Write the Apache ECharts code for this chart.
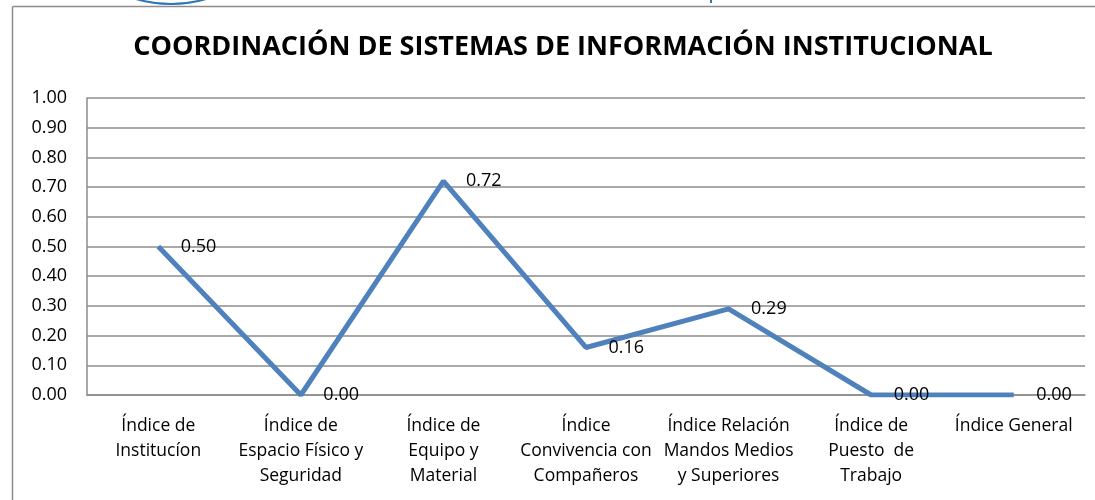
<!DOCTYPE html>
<html>
<head>
<meta charset="utf-8">
<script src="https://cdn.jsdelivr.net/npm/echarts@6/dist/echarts.min.js"></script>
<style>
html,body{margin:0;padding:0;background:#fff;overflow:hidden;}
#c{width:1095px;height:500px;}
</style>
</head>
<body>
<div id="c"></div>
<script>
var titleText = 'COORDINACIÓN DE SISTEMAS DE INFORMACIÓN INSTITUCIONAL';
var categories = [
  'Índice de\nInstitucíon',
  'Índice de\nEspacio Físico y\nSeguridad',
  'Índice de\nEquipo y\nMaterial',
  'Índice\nConvivencia con\nCompañeros',
  'Índice Relación\nMandos Medios\ny Superiores',
  'Índice de\nPuesto  de\nTrabajo',
  'Índice General'
];
var values = [0.50, 0.00, 0.72, 0.16, 0.29, 0.00, 0.00];
var yTicks = [0, 0.1, 0.2, 0.3, 0.4, 0.5, 0.6, 0.7, 0.8, 0.9, 1.0];

var FONT = '"Open Sans", sans-serif';
var chart = echarts.init(document.getElementById('c'), null, {renderer: 'canvas'});
chart.setOption({
  backgroundColor: '#fff',
  animation: false,
  title: {
    text: titleText,
    left: 558,
    textAlign: 'center',
    top: 29,
    textStyle: {fontFamily: FONT, fontWeight: 'bold', fontSize: 27, color: '#000'}
  },
  graphic: [
    {type: 'line', shape: {x1: 12.5, y1: 6.5, x2: 1095, y2: 6.5}, style: {stroke: '#8c8c8c', lineWidth: 1.5}, silent: true},
    {type: 'line', shape: {x1: 12.5, y1: 6.5, x2: 12.5, y2: 500}, style: {stroke: '#8c8c8c', lineWidth: 1.5}, silent: true},
    {type: 'circle', shape: {cx: 171, cy: -122, r: 126}, style: {fill: null, stroke: '#2E75B6', lineWidth: 2}, silent: true},
    {type: 'line', shape: {x1: 711, y1: 0, x2: 711, y2: 3}, style: {stroke: '#2E75B6', lineWidth: 2}, silent: true}
  ],
  grid: {left: 87, right: 10, top: 98, bottom: 105, containLabel: false},
  xAxis: {
    type: 'category',
    data: categories,
    boundaryGap: true,
    axisLine: {show: true, lineStyle: {color: '#8c8c8c', width: 1.5}},
    axisTick: {show: false},
    axisLabel: {interval: 0, margin: 19, fontFamily: FONT, fontSize: 17.5, color: '#000', lineHeight: 25, align: 'center'}
  },
  yAxis: {
    type: 'value',
    min: 0, max: 1, interval: 0.1,
    axisLine: {show: true, lineStyle: {color: '#8c8c8c', width: 1.5}},
    axisTick: {show: false},
    splitLine: {show: true, lineStyle: {color: '#8c8c8c', width: 1.5}},
    axisLabel: {
      margin: 20, fontFamily: FONT, fontSize: 18, color: '#000',
      formatter: function (v) { return v.toFixed(2); },
      customValues: yTicks
    }
  },
  series: [{
    type: 'line',
    data: values,
    symbol: 'circle',
    symbolSize: 1,
    showSymbol: true,
    lineStyle: {color: '#4F81BD', width: 5},
    itemStyle: {color: '#4F81BD'},
    label: {
      show: true, position: 'right', distance: 22,
      fontFamily: FONT, fontSize: 18, color: '#000',
      formatter: function (p) { return p.value.toFixed(2); }
    },
    labelLayout: {hideOverlap: false}
  }]
});
</script>
</body>
</html>
